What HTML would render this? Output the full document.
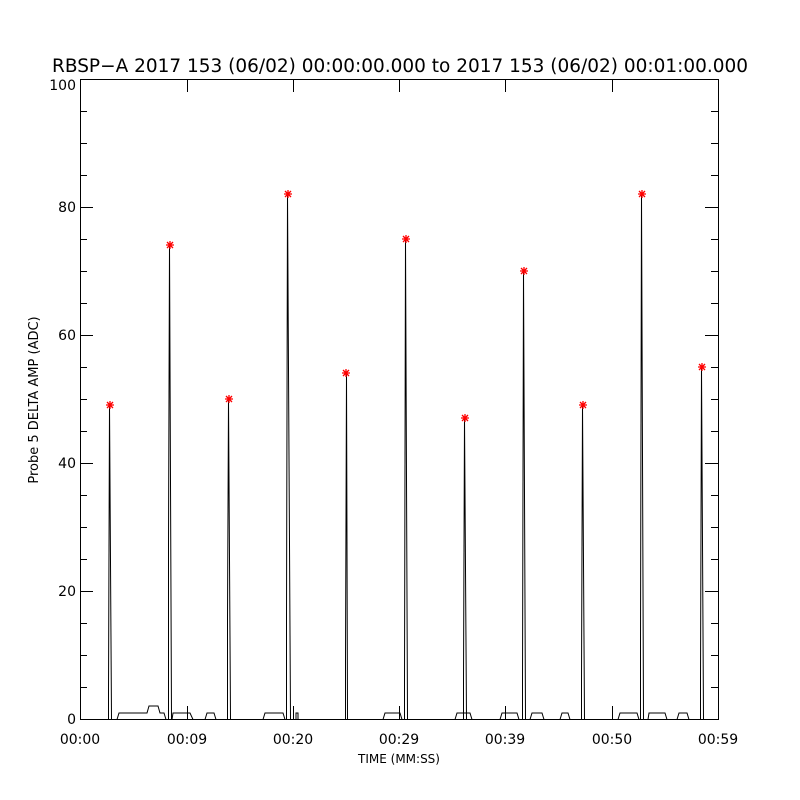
<!DOCTYPE html>
<html><head><meta charset="utf-8"><style>
html,body{margin:0;padding:0;background:#fff}
svg{display:block}
text{font-family:"DejaVu Sans","Liberation Sans",sans-serif;fill:#000}
</style></head><body>
<svg width="800" height="800" viewBox="0 0 800 800" xmlns="http://www.w3.org/2000/svg">
<defs><path id="st" d="M-4 0H4M0 -4V4M-3 -3L3 3M-3 3L3 -3" stroke="red" stroke-width="1.3" fill="none"/></defs>
<rect width="800" height="800" fill="#fff"/>
<text x="400" y="72" font-size="18.5" text-anchor="middle" textLength="696" lengthAdjust="spacingAndGlyphs">RBSP−A 2017 153 (06/02) 00:00:00.000 to 2017 153 (06/02) 00:01:00.000</text>
<g stroke="#000" stroke-width="1" fill="none" shape-rendering="crispEdges">
<rect x="80.5" y="79.5" width="638" height="640"/>
<path d="M80 719.5h13M80 591.5h13M80 463.5h13M80 335.5h13M80 207.5h13M80 79.5h13
M718 591.5h-13M718 463.5h-13M718 335.5h-13M718 207.5h-13
M80 687.5h7M80 655.5h7M80 623.5h7M80 559.5h7M80 527.5h7M80 495.5h7M80 431.5h7M80 399.5h7M80 367.5h7M80 303.5h7M80 271.5h7M80 239.5h7M80 175.5h7M80 143.5h7M80 111.5h7
M718 687.5h-7M718 655.5h-7M718 623.5h-7M718 559.5h-7M718 527.5h-7M718 495.5h-7M718 431.5h-7M718 399.5h-7M718 367.5h-7M718 303.5h-7M718 271.5h-7M718 239.5h-7M718 175.5h-7M718 143.5h-7M718 111.5h-7
M187.5 719v-13M293.5 719v-13M399.5 719v-13M505.5 719v-13M612.5 719v-13
M187.5 79v13M293.5 79v13M399.5 79v13M505.5 79v13M612.5 79v13"/>
</g>
<g font-size="14" text-anchor="end">
<text x="76" y="724">0</text><text x="76" y="596">20</text><text x="76" y="468">40</text>
<text x="76" y="340">60</text><text x="76" y="212">80</text><text x="76" y="90">100</text>
</g>
<g font-size="14" text-anchor="middle">
<text x="80" y="744">00:00</text><text x="187" y="744">00:09</text><text x="293" y="744">00:20</text>
<text x="399" y="744">00:29</text><text x="505" y="744">00:39</text><text x="612" y="744">00:50</text><text x="718" y="744">00:59</text>
<text x="399" y="763" font-size="12">TIME (MM:SS)</text>
</g>
<text transform="translate(38,400) rotate(-90)" font-size="13" text-anchor="middle">Probe 5 DELTA AMP (ADC)</text>
<g stroke="#000" stroke-width="1" fill="none">
<path d="M108.5 719V693L109.5 405L111.5 719"/>
<path d="M168.5 719V545L169.5 245L171.5 719"/>
<path d="M227.5 719V620L228.5 399L230.5 719"/>
<path d="M286.5 719V620L287.5 194L290.5 719"/>
<path d="M345.5 719V660L346.5 373L347.5 719"/>
<path d="M404.5 719V680L405.5 239L407.5 719"/>
<path d="M463.5 719V680L464.5 418L466.5 719"/>
<path d="M522.5 719V680L523.5 271L525.5 719"/>
<path d="M581.5 719V680L582.5 405L584.5 719"/>
<path d="M640.5 719V640L641.5 194L643.5 719"/>
<path d="M700.5 719V680L701.5 367L703.5 719"/>
<path d="M80 719.5H117L119 713H147L149 706H158L160 713H164L166 719.5H172L173 713H190L193 719.5H205L207 713H214L216 719.5H263L265 713H283L285 719.5H296V713H298V719.5H383L385 713H400L402 719.5H455L457 713H470L472 719.5H500L502 713H517L519 719.5H530L532 713H542L544 719.5H560L562 713H568L570 719.5H618L620 713H637L639 719.5H648L649 713H665L667 719.5H677L679 713H687L689 719.5H718"/>
</g>
<use href="#st" x="110" y="405"/><use href="#st" x="170" y="245"/>
<use href="#st" x="229" y="399"/><use href="#st" x="288" y="194"/>
<use href="#st" x="346" y="373"/><use href="#st" x="406" y="239"/>
<use href="#st" x="465" y="418"/><use href="#st" x="524" y="271"/>
<use href="#st" x="583" y="405"/><use href="#st" x="642" y="194"/>
<use href="#st" x="702" y="367"/>
</svg>
</body></html>
